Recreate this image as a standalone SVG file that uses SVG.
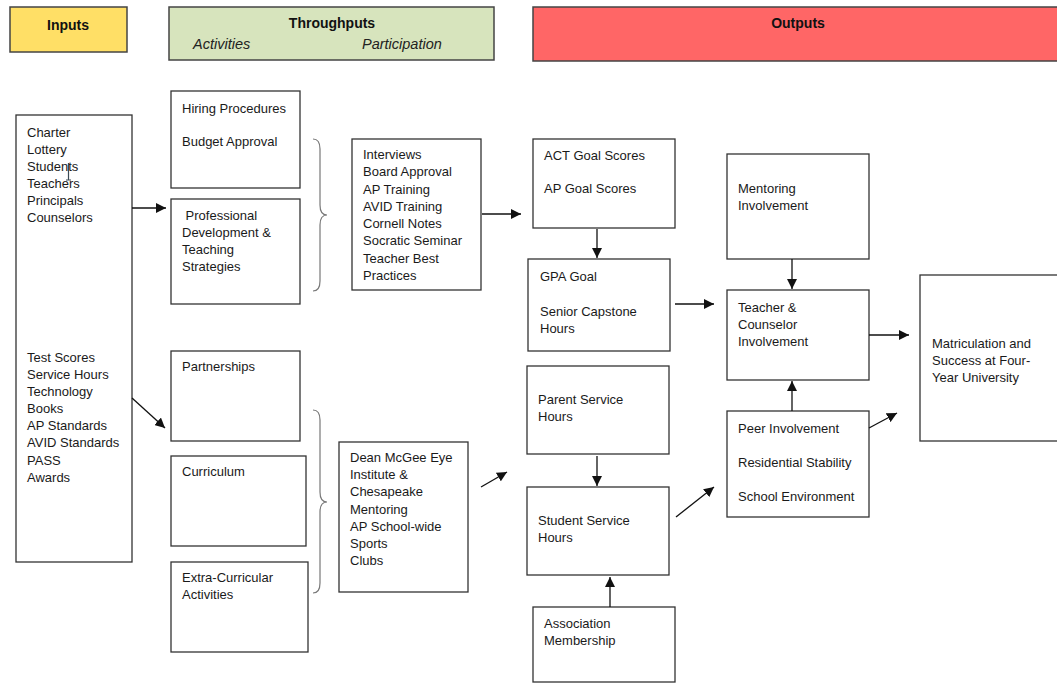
<svg xmlns="http://www.w3.org/2000/svg" width="1057" height="683" viewBox="0 0 1057 683">
<style>
.box{fill:#fff;stroke:#333;stroke-width:1.3}
.hdr{stroke:#444;stroke-width:1.5}
.t{font-family:"Liberation Sans",Arial,sans-serif;font-size:13px;fill:#1a1a1a}
.h{font-family:"Liberation Sans",Arial,sans-serif;font-size:14px;font-weight:bold;fill:#111}
.i{font-family:"Liberation Sans",Arial,sans-serif;font-size:14.5px;font-style:italic;fill:#222}
.brace{fill:none;stroke:#777;stroke-width:1.2}
.c{stroke:#111;stroke-width:1.3;fill:none;marker-end:url(#ah)}
</style>
<defs>
<marker id="ah" markerUnits="userSpaceOnUse" markerWidth="11" markerHeight="10" refX="10" refY="5" orient="auto">
<path d="M0,0 L10,5 L0,10 Z" fill="#111"/>
</marker>
</defs>
<rect width="1057" height="683" fill="#fff"/>

<g id="hdr-inputs">
<rect class="hdr" x="10" y="7" width="117" height="45" fill="#FFDF66"/>
<text class="h" x="68" y="30" text-anchor="middle">Inputs</text>
</g>
<g id="hdr-throughputs">
<rect class="hdr" x="169" y="7" width="325" height="53" fill="#D7E4BD"/>
<text class="h" x="332" y="28" text-anchor="middle">Throughputs</text>
<text class="i" x="193" y="49">Activities</text>
<text class="i" x="362" y="49">Participation</text>
</g>
<g id="hdr-outputs">
<rect class="hdr" x="533" y="7" width="530" height="54" fill="#FF6666"/>
<text class="h" x="798" y="28" text-anchor="middle">Outputs</text>
</g>

<g id="inputs">
<rect class="box" x="16" y="115" width="116" height="447"/>
<text class="t" x="27" y="137">Charter</text>
<text class="t" x="27" y="154">Lottery</text>
<text class="t" x="27" y="171">Students</text>
<text class="t" x="27" y="188">Teachers</text>
<text class="t" x="27" y="205">Principals</text>
<text class="t" x="27" y="222">Counselors</text>
<path d="M68.5,163 V180 M66,180 H71" stroke="#3a4a55" stroke-width="1.2" fill="none"/>
<text class="t" x="27" y="362">Test Scores</text>
<text class="t" x="27" y="379">Service Hours</text>
<text class="t" x="27" y="396">Technology</text>
<text class="t" x="27" y="413">Books</text>
<text class="t" x="27" y="430">AP Standards</text>
<text class="t" x="27" y="447">AVID Standards</text>
<text class="t" x="27" y="465">PASS</text>
<text class="t" x="27" y="482">Awards</text>
</g>

<g id="hiring">
<rect class="box" x="171" y="91" width="129" height="97"/>
<text class="t" x="182" y="113">Hiring Procedures</text>
<text class="t" x="182" y="146">Budget Approval</text>
</g>
<g id="profdev">
<rect class="box" x="171" y="199" width="129" height="105"/>
<text class="t" x="182" y="220" xml:space="preserve"> Professional</text>
<text class="t" x="182" y="237">Development &amp;</text>
<text class="t" x="182" y="254">Teaching</text>
<text class="t" x="182" y="271">Strategies</text>
</g>
<g id="partnerships">
<rect class="box" x="171" y="351" width="129" height="90"/>
<text class="t" x="182" y="371">Partnerships</text>
</g>
<g id="curriculum">
<rect class="box" x="171" y="456" width="135" height="90"/>
<text class="t" x="182" y="476">Curriculum</text>
</g>
<g id="extracurricular">
<rect class="box" x="171" y="562" width="137" height="90"/>
<text class="t" x="182" y="582">Extra-Curricular</text>
<text class="t" x="182" y="599">Activities</text>
</g>

<g id="brace1">
<path class="brace" d="M313,139 Q320,139 320,149 V205 Q320,215 327,215 Q320,215 320,225 V281 Q320,291 313,291"/>
</g>
<g id="brace2">
<path class="brace" d="M313,410 Q320,410 320,420 V492 Q320,502 327,502 Q320,502 320,512 V583 Q320,593 313,593"/>
</g>

<g id="participation1">
<rect class="box" x="352" y="139" width="129" height="151"/>
<text class="t" x="363" y="159">Interviews</text>
<text class="t" x="363" y="176">Board Approval</text>
<text class="t" x="363" y="194">AP Training</text>
<text class="t" x="363" y="211">AVID Training</text>
<text class="t" x="363" y="228">Cornell Notes</text>
<text class="t" x="363" y="245">Socratic Seminar</text>
<text class="t" x="363" y="263">Teacher Best</text>
<text class="t" x="363" y="280">Practices</text>
</g>
<g id="participation2">
<rect class="box" x="339" y="442" width="129" height="150"/>
<text class="t" x="350" y="462">Dean McGee Eye</text>
<text class="t" x="350" y="479">Institute &amp;</text>
<text class="t" x="350" y="496">Chesapeake</text>
<text class="t" x="350" y="514">Mentoring</text>
<text class="t" x="350" y="531">AP School-wide</text>
<text class="t" x="350" y="548">Sports</text>
<text class="t" x="350" y="565">Clubs</text>
</g>

<g id="act">
<rect class="box" x="533" y="139" width="142" height="89"/>
<text class="t" x="544" y="160">ACT Goal Scores</text>
<text class="t" x="544" y="193">AP Goal Scores</text>
</g>
<g id="gpa">
<rect class="box" x="528" y="259" width="142" height="92"/>
<text class="t" x="540" y="281">GPA Goal</text>
<text class="t" x="540" y="316">Senior Capstone</text>
<text class="t" x="540" y="333">Hours</text>
</g>
<g id="parent">
<rect class="box" x="527" y="366" width="142" height="88"/>
<text class="t" x="538" y="404">Parent Service</text>
<text class="t" x="538" y="421">Hours</text>
</g>
<g id="student">
<rect class="box" x="527" y="487" width="142" height="88"/>
<text class="t" x="538" y="525">Student Service</text>
<text class="t" x="538" y="542">Hours</text>
</g>
<g id="association">
<rect class="box" x="533" y="607" width="142" height="75"/>
<text class="t" x="544" y="628">Association</text>
<text class="t" x="544" y="645">Membership</text>
</g>
<g id="mentoring">
<rect class="box" x="727" y="154" width="142" height="105"/>
<text class="t" x="738" y="193">Mentoring</text>
<text class="t" x="738" y="210">Involvement</text>
</g>
<g id="teacher">
<rect class="box" x="727" y="290" width="142" height="90"/>
<text class="t" x="738" y="312">Teacher &amp;</text>
<text class="t" x="738" y="329">Counselor</text>
<text class="t" x="738" y="346">Involvement</text>
</g>
<g id="peer">
<rect class="box" x="727" y="411" width="142" height="106"/>
<text class="t" x="738" y="433">Peer Involvement</text>
<text class="t" x="738" y="467">Residential Stability</text>
<text class="t" x="738" y="501">School Environment</text>
</g>
<g id="matriculation">
<rect class="box" x="920" y="275" width="145" height="166"/>
<text class="t" x="932" y="348">Matriculation  and</text>
<text class="t" x="932" y="365">Success at Four-</text>
<text class="t" x="932" y="382">Year University</text>
</g>

<g id="connectors">
<line class="c" x1="132" y1="208" x2="166" y2="208"/>
<line class="c" x1="132" y1="398" x2="165" y2="428"/>
<line class="c" x1="482" y1="214" x2="521" y2="214"/>
<line class="c" x1="481" y1="487" x2="507" y2="472"/>
<line class="c" x1="597" y1="229" x2="597" y2="258"/>
<line class="c" x1="675" y1="304" x2="714" y2="304"/>
<line class="c" x1="792" y1="259" x2="792" y2="289"/>
<line class="c" x1="869" y1="335" x2="909" y2="335"/>
<line class="c" x1="792" y1="411" x2="792" y2="381"/>
<line class="c" x1="869" y1="428" x2="897" y2="413"/>
<line class="c" x1="597" y1="456" x2="597" y2="486"/>
<line class="c" x1="676" y1="517" x2="714" y2="487"/>
<line class="c" x1="610" y1="607" x2="610" y2="577"/>
</g>
</svg>
